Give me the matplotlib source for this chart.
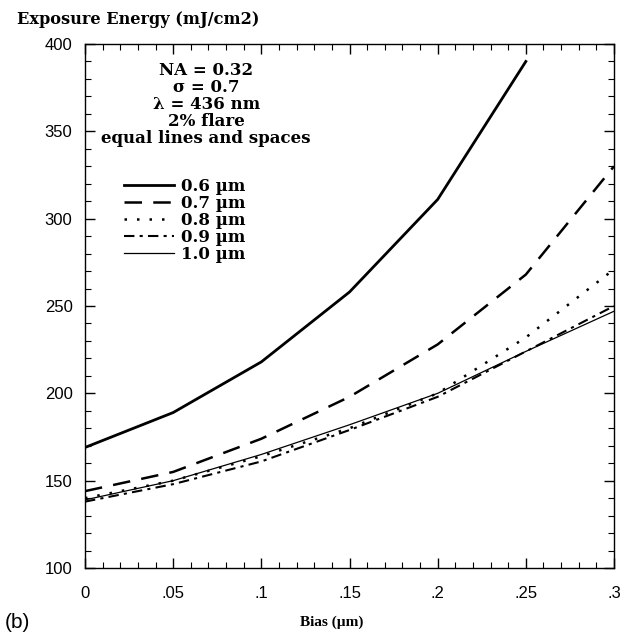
import matplotlib
matplotlib.use("Agg")
import matplotlib.pyplot as plt
from matplotlib.ticker import MultipleLocator, FixedLocator

# ---- data ----
bias = [0.0, 0.05, 0.10, 0.15, 0.20, 0.25, 0.30]
e_06 = [169, 189, 218, 258, 311, 390]
e_07 = [144, 155, 174, 198, 228, 268, 330]
e_08 = [140, 150, 164, 180, 200, 232, 271]
e_09 = [138, 148, 161, 179, 198, 224, 250]
e_10 = [139, 150, 165, 182, 200, 224, 247]
labels = ["0.6 \u00b5m", "0.7 \u00b5m", "0.8 \u00b5m", "0.9 \u00b5m", "1.0 \u00b5m"]
xticks = [0, 0.05, 0.10, 0.15, 0.20, 0.25, 0.30]
xticklabels = ["0", ".05", ".1", ".15", ".2", ".25", ".3"]
yticks = [100, 150, 200, 250, 300, 350, 400]
annotation = "NA = 0.32\n\u03c3 = 0.7\n\u03bb = 436 nm\n2% flare\nequal lines and spaces"

serif = "DejaVu Serif"
sans = "Liberation Sans"

fig = plt.figure(figsize=(6.22, 6.38), dpi=100)
ax = fig.add_axes([85/622, 1-568/638, (614-85)/622, (568-44)/638])

series = [e_06, e_07, e_08, e_09, e_10]
styles = [
    dict(ls="-", lw=2.0),
    dict(ls=(0, (7, 4.5)), lw=1.8),
    dict(ls=(0, (1, 4)), lw=1.8),
    dict(ls=(0, (5, 2.5, 1.5, 2.5)), lw=1.5),
    dict(ls="-", lw=0.9),
]
for ys, st, lab in zip(series, styles, labels):
    ax.plot(bias[:len(ys)], ys, color="black", label=lab, **st)

ax.set_xlim(0, 0.3)
ax.set_ylim(100, 400)
ax.xaxis.set_major_locator(FixedLocator(xticks))
ax.set_xticklabels(xticklabels)
ax.yaxis.set_major_locator(FixedLocator(yticks))
ax.xaxis.set_minor_locator(MultipleLocator(0.01))
ax.yaxis.set_minor_locator(MultipleLocator(10))
ax.tick_params(which="both", direction="in", top=True, right=True, color="black")
ax.tick_params(which="major", length=7, width=1, labelsize=12)
ax.tick_params(axis="x", which="major", pad=13)
ax.tick_params(axis="y", which="major", pad=9)
ax.tick_params(which="minor", length=4, width=0.8)
for lab in ax.get_xticklabels() + ax.get_yticklabels():
    lab.set_fontfamily(sans)
for sp in ax.spines.values():
    sp.set_linewidth(1.0)

ax.text(0.229, 0.966, annotation, transform=ax.transAxes, ha="center", va="top",
        fontsize=12, fontweight="bold", family=serif, linespacing=1.0)

leg = ax.legend(loc="upper left", bbox_to_anchor=(0.074, 0.744), frameon=False,
                borderaxespad=0, borderpad=0,
                handlelength=3.0, handletextpad=0.4, labelspacing=0.0,
                prop=dict(family=serif, weight="bold", size=12))

fig.text(17/622, 1-20/638, "Exposure Energy (mJ/cm2)", ha="left", va="center",
         fontsize=11.6, fontweight="bold", family=serif)
fig.text(332/622, 1-622/638, "Bias (\u00b5m)", ha="center", va="center",
         fontsize=11, fontweight="bold", family="Liberation Serif")
fig.text(5/622, 1-622/638, "(b)", ha="left", va="center", fontsize=15, family=sans)

fig.savefig("out.png", dpi=100)
